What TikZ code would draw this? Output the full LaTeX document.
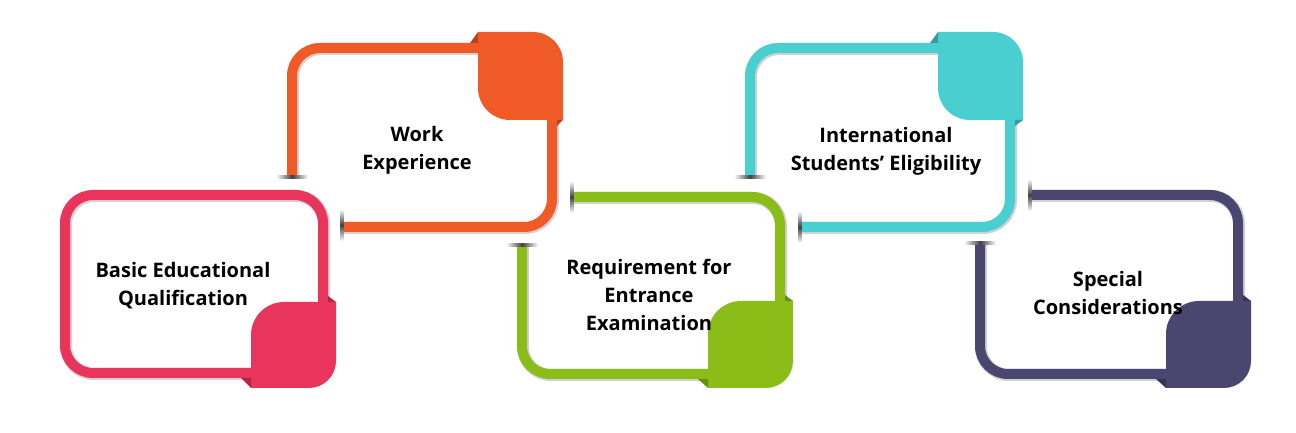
\documentclass[tikz,border=0pt]{standalone}
\usepackage{fontspec}
\setmainfont{Open Sans}
\definecolor{pinkc}{HTML}{E9345B}
\definecolor{orangec}{HTML}{F05A27}
\definecolor{greenc}{HTML}{8BBD19}
\definecolor{cyanc}{HTML}{49CFD0}
\definecolor{purplec}{HTML}{4A4670}

\begin{document}
\begin{tikzpicture}
    [x=1pt,y=1pt,
     frame/.style={line width=10pt,rounded corners=28pt},
     shadow/.style={line width=12pt,rounded corners=28pt,black!18,xshift=1pt,yshift=-1pt},
     lbl/.style={align=center,font=\bfseries\fontsize{20}{28}\selectfont},
     tickh/.style={left color=white,right color=white,middle color=black!75},
     tickv/.style={top color=white,bottom color=white,middle color=black!75}]
    \useasboundingbox (0,0) rectangle (1296,433);
    \fill[white] (0,0) rectangle (1296,433);

    % frames
    \draw[shadow] (65,60) rectangle (323,238);
    \draw[frame,pinkc] (65,60) rectangle (323,238);
    \draw[shadow] (292,256) -- (292,385) -- (552,385) -- (552,206) -- (342,206);
    \draw[frame,orangec] (292,256) -- (292,385) -- (552,385) -- (552,206) -- (342,206);
    \draw[shadow] (572,236) -- (780,236) -- (780,59) -- (522,59) -- (522,188);
    \draw[frame,greenc] (572,236) -- (780,236) -- (780,59) -- (522,59) -- (522,188);
    \draw[shadow] (750,256) -- (750,385) -- (1010,385) -- (1010,206) -- (800,206);
    \draw[frame,cyanc] (750,256) -- (750,385) -- (1010,385) -- (1010,206) -- (800,206);
    \draw[shadow] (1030,238) -- (1238,238) -- (1238,59) -- (980,59) -- (980,190);
    \draw[frame,purplec] (1030,238) -- (1238,238) -- (1238,59) -- (980,59) -- (980,190);

    % shadows at the open ends
    \shade[tickh] (276,254.5) rectangle (308,257.5);
    \shade[tickv] (340.5,192) rectangle (343.5,224);
    \shade[tickv] (570.5,220) rectangle (573.5,252);
    \shade[tickh] (506,186.5) rectangle (538,189.5);
    \shade[tickh] (734,254.5) rectangle (766,257.5);
    \shade[tickv] (798.5,190) rectangle (801.5,222);
    \shade[tickv] (1028.5,222) rectangle (1031.5,254);
    \shade[tickh] (964,188.5) rectangle (996,191.5);

    % corner blocks
    \fill[pinkc] (251,45) -- (251,98) arc (180:90:33) -- (336,131) -- (336,72) arc (0:-90:27) -- cycle;
    \fill[pinkc!75!black] (328,137) -- (336,131) -- (328,131) -- cycle;
    \fill[pinkc!75!black] (241,55) -- (251,55) -- (251,45) -- cycle;
    \fill[orangec] (478,401) -- (533,401) arc (90:0:30) -- (563,313) -- (510,313) arc (-90:-180:32) -- cycle;
    \fill[orangec!75!black] (470,390) -- (478,401) -- (478,390) -- cycle;
    \fill[orangec!75!black] (557,307) -- (563,313) -- (557,313) -- cycle;
    \fill[greenc] (708,45) -- (708,99) arc (180:90:33) -- (793,132) -- (793,72) arc (0:-90:27) -- cycle;
    \fill[greenc!75!black] (785,138) -- (793,132) -- (785,132) -- cycle;
    \fill[greenc!75!black] (698,54) -- (708,54) -- (708,45) -- cycle;
    \fill[cyanc] (938,401) -- (993,401) arc (90:0:30) -- (1023,313) -- (970,313) arc (-90:-180:32) -- cycle;
    \fill[cyanc!75!black] (930,390) -- (938,401) -- (938,390) -- cycle;
    \fill[cyanc!75!black] (1015,307) -- (1023,313) -- (1015,313) -- cycle;
    \fill[purplec] (1166,45) -- (1166,99) arc (180:90:33) -- (1251,132) -- (1251,72) arc (0:-90:27) -- cycle;
    \fill[purplec!75!black] (1243,138) -- (1251,132) -- (1243,132) -- cycle;
    \fill[purplec!75!black] (1156,54) -- (1166,54) -- (1166,45) -- cycle;

    % labels
    \node[lbl] (basic) at (183,147) {Basic Educational\\Qualification};
    \node[lbl] (work) at (417,283) {Work\\Experience};
    \node[lbl] (entrance) at (649,138) {Requirement for\\Entrance\\Examination};
    \node[lbl] (intl) at (886,282) {International\\Students’ Eligibility};
    \node[lbl] (special) at (1108,140) {Special\\Considerations};
\end{tikzpicture}
\end{document}
